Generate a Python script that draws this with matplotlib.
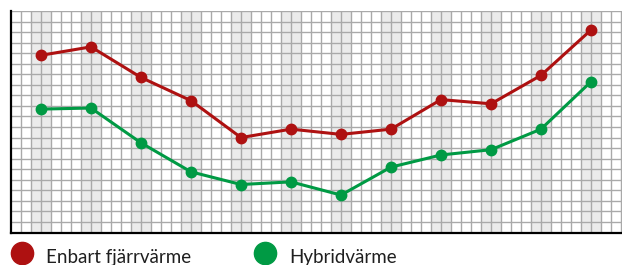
import numpy as np
import matplotlib
matplotlib.use("Agg")
import matplotlib.pyplot as plt
from matplotlib.lines import Line2D

months = list(range(12))
enbart = [16.8, 17.6, 14.7, 12.5, 9.0, 9.8, 9.3, 9.8, 12.6, 12.2, 14.9, 19.2]
hybrid = [11.7, 11.8, 8.5, 5.75, 4.55, 4.8, 3.55, 6.2, 7.35, 7.85, 9.8, 14.3]
labels = ["Enbart fjärrvärme", "Hybridvärme"]
colors = ["#ae1111", "#009a44"]

W, H = 622, 265
fig = plt.figure(figsize=(W / 100, H / 100), dpi=100)
ax = fig.add_axes([11 / W, 32.5 / H, (W - 11) / W, 221.5 / H])

x0, x1 = -0.6, 11.62
ax.set_xlim(x0, x1)
ax.set_ylim(0, 21)

# shaded bands
for m in months:
    ax.axvspan(m - 0.2, m + 0.2, color="#ebebeb", zorder=0, lw=0)

# grid
grid_c = "#a9a9a9"
for gx in np.arange(-0.4, 11.61, 0.2):
    ax.axvline(gx, color=grid_c, lw=1.0, zorder=1)
for gy in range(1, 22):
    ax.axhline(gy, color=grid_c, lw=1.0, zorder=1)

ax.plot(months, enbart, color=colors[0], lw=2.2, marker="o", ms=7.5, zorder=3,
        clip_on=False)
ax.plot(months, hybrid, color=colors[1], lw=2.2, marker="o", ms=7.5, zorder=3,
        clip_on=False)

for s in ["top", "right"]:
    ax.spines[s].set_visible(False)
for s in ["left", "bottom"]:
    ax.spines[s].set_color("black")
    ax.spines[s].set_linewidth(1.6)
    ax.spines[s].set_zorder(4)
ax.set_xticks([])
ax.set_yticks([])

# legend
fs = 13.5
for lab, c, lx in zip(labels, colors, [22, 265]):
    fig.add_artist(Line2D([lx / W], [(H - 253) / H], marker="o",
                          ms=16, color=c, transform=fig.transFigure))
    fig.text((lx + 24) / W, (H - 263) / H, lab, fontsize=fs, color="#1f1f1f",
             family=["Lato", "DejaVu Sans"], va="baseline", ha="left")

fig.savefig("out.png", dpi=100)
